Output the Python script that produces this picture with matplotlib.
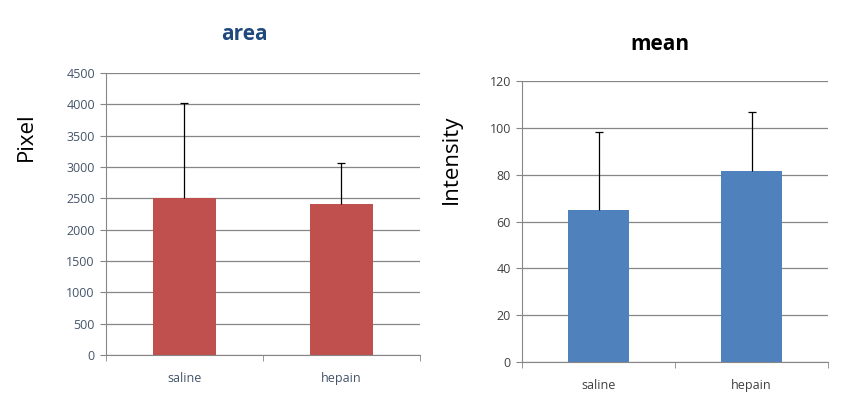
import matplotlib.pyplot as plt
import numpy as np

categories = ['saline', 'hepain']
area_vals = [2500, 2410]
area_err = [1520, 650]
mean_vals = [65, 81.5]
mean_err = [33, 25]

plt.rcParams['font.family'] = ['Open Sans', 'DejaVu Sans']

fig = plt.figure(figsize=(8.45, 4.05), dpi=100)


def style(ax, ymax, step, tick_color, xtick_color):
    ax.set_xlim(0, len(categories))
    ax.set_ylim(0, ymax)
    ax.set_yticks(np.arange(0, ymax + 1, step))
    ax.set_xticks([0.5, 1.5])
    ax.set_xticklabels(categories)
    ax.set_xticks([0, 1, 2], minor=True)
    ax.yaxis.grid(True, color='#868686', linewidth=0.9)
    ax.set_axisbelow(True)
    for s in ['top', 'right']:
        ax.spines[s].set_visible(False)
    for s in ['left', 'bottom']:
        ax.spines[s].set_color('#868686')
    ax.tick_params(axis='y', colors='#868686', labelcolor=tick_color,
                   labelsize=9, length=4, pad=4)
    ax.tick_params(axis='x', which='major', length=0, labelcolor=xtick_color,
                   labelsize=9, pad=12)
    ax.tick_params(axis='x', which='minor', length=4, color='#868686')


def bars(ax, vals, err, color):
    x = np.arange(len(categories)) + 0.5
    ax.bar(x, vals, width=0.4, color=color, zorder=2)
    _, caps, _ = ax.errorbar(x, vals, yerr=[[0] * len(err), err], fmt='none',
                             ecolor='black', elinewidth=0.9, capsize=3,
                             capthick=0.9, zorder=3)
    caps[0].set_visible(False)


ax1 = fig.add_axes([0.1254, 0.1235, 0.3716, 0.6963])
bars(ax1, area_vals, area_err, '#c0504d')
style(ax1, 4500, 500, '#44546a', '#44546a')
ax1.set_ylabel('Pixel', fontsize=16, color='black')
ax1.yaxis.set_label_coords(-0.22, 0.773)
ax1.set_title('area', fontsize=15, fontweight='bold', color='#1f497d',
              pad=24, x=0.44)

ax2 = fig.add_axes([0.6178, 0.1054, 0.3621, 0.6953])
bars(ax2, mean_vals, mean_err, '#4f81bd')
style(ax2, 120, 20, '#404040', '#404040')
ax2.set_ylabel('Intensity', fontsize=16, color='black')
ax2.yaxis.set_label_coords(-0.196, 0.72)
ax2.set_title('mean', fontsize=15, fontweight='bold', color='black',
              pad=22, x=0.451)

fig.savefig('out.png', dpi=100)
